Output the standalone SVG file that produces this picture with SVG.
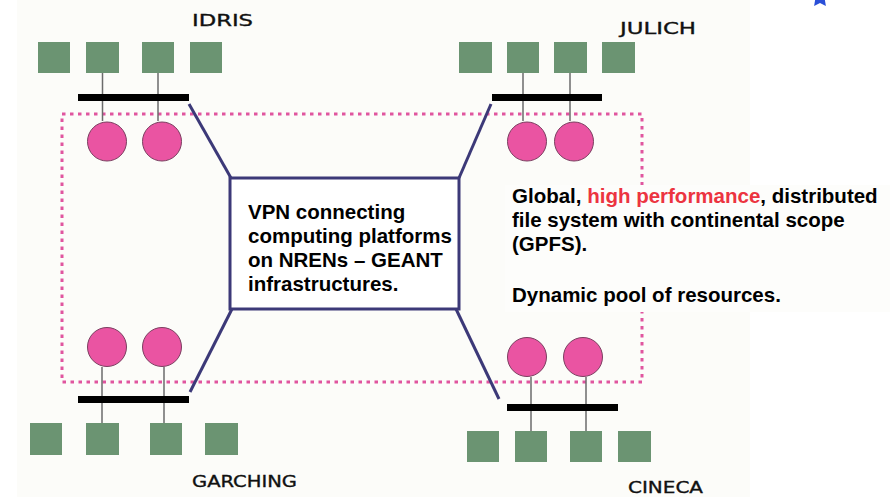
<svg xmlns="http://www.w3.org/2000/svg" width="894" height="497" viewBox="0 0 894 497">
<style>
.sq{fill:#6b9472;}
.ci{fill:#ea54a2;stroke:#7a3f60;stroke-width:1;}
.bar{fill:#000;}
.stem{stroke:#6b6b6b;stroke-width:1.5;fill:none;}
.lbl{font-family:"DejaVu Sans",sans-serif;font-size:16px;fill:#111;stroke:#111;stroke-width:0.35;}
.conn{stroke:#3c3978;stroke-width:3;fill:none;stroke-linecap:butt;}
.txt{font-family:"Liberation Sans",Arial,sans-serif;font-weight:bold;fill:#000;}
</style>
<rect width="894" height="497" fill="#ffffff"/>
<rect x="17" y="0" width="733" height="497" fill="#fcfcf9"/>
<polygon points="820,-12 822.9,-6 829.5,-5.1 824.8,-0.5 825.9,6.1 820,3 814.1,6.1 815.2,-0.5 810.5,-5.1 817.1,-6" fill="#2a4fd8"/>

<rect id="pool" x="62" y="114" width="580" height="268" fill="none" stroke="#e0559f" stroke-width="3" stroke-dasharray="3.5 4.5"/>

<g id="connectors">
<line class="conn" x1="189" y1="104" x2="231" y2="178"/>
<line class="conn" x1="491" y1="104" x2="459" y2="178"/>
<line class="conn" x1="190" y1="392" x2="232" y2="309"/>
<line class="conn" x1="456" y1="309" x2="499" y2="399"/>
</g>

<g id="vpn">
<rect x="230" y="178" width="229" height="131" fill="#ffffff" stroke="#3c3978" stroke-width="3"/>
<text class="txt" font-size="20.5" x="248" y="219">VPN connecting</text>
<text class="txt" font-size="20.5" x="248" y="243">computing platforms</text>
<text class="txt" font-size="20.5" x="248" y="267">on NRENs – GEANT</text>
<text class="txt" font-size="20.5" x="248" y="291">infrastructures.</text>
</g>

<g id="idris">
<line class="stem" x1="102.5" y1="73" x2="102.5" y2="121"/>
<line class="stem" x1="158" y1="73" x2="158" y2="121"/>
<rect class="sq" x="38" y="42" width="32" height="31"/>
<rect class="sq" x="86" y="42" width="33" height="31"/>
<rect class="sq" x="142" y="42" width="32" height="31"/>
<rect class="sq" x="190" y="42" width="32" height="31"/>
<rect class="bar" x="78" y="94" width="111" height="7"/>
<circle class="ci" cx="107" cy="141.5" r="19.5"/>
<circle class="ci" cx="162" cy="141.5" r="19.5"/>
<text class="lbl" x="192" y="26" textLength="61" lengthAdjust="spacingAndGlyphs">IDRIS</text>
</g>

<g id="julich">
<line class="stem" x1="523" y1="73" x2="523" y2="121"/>
<line class="stem" x1="570" y1="73" x2="570" y2="121"/>
<rect class="sq" x="459" y="42" width="33" height="31"/>
<rect class="sq" x="507" y="42" width="32" height="31"/>
<rect class="sq" x="554" y="42" width="33" height="31"/>
<rect class="sq" x="602" y="42" width="33" height="31"/>
<rect class="bar" x="492" y="94" width="110" height="7"/>
<circle class="ci" cx="527" cy="141.5" r="19.5"/>
<circle class="ci" cx="574" cy="141.5" r="19.5"/>
<text class="lbl" x="620" y="34" textLength="76" lengthAdjust="spacingAndGlyphs">JULICH</text>
</g>

<g id="garching">
<line class="stem" x1="102" y1="367" x2="102" y2="423"/>
<line class="stem" x1="164" y1="367" x2="164" y2="423"/>
<circle class="ci" cx="107" cy="347" r="19.5"/>
<circle class="ci" cx="162" cy="347" r="19.5"/>
<rect class="bar" x="78" y="396" width="111" height="7"/>
<rect class="sq" x="30" y="423" width="32" height="32"/>
<rect class="sq" x="86" y="423" width="33" height="32"/>
<rect class="sq" x="150" y="423" width="32" height="32"/>
<rect class="sq" x="205" y="423" width="33" height="32"/>
<text class="lbl" x="192" y="487" textLength="105" lengthAdjust="spacingAndGlyphs">GARCHING</text>
</g>

<g id="cineca">
<line class="stem" x1="531" y1="377" x2="531" y2="431"/>
<line class="stem" x1="586" y1="377" x2="586" y2="431"/>
<circle class="ci" cx="527" cy="357" r="19.5"/>
<circle class="ci" cx="583" cy="357" r="19.5"/>
<rect class="bar" x="507" y="404" width="111" height="7"/>
<rect class="sq" x="467" y="431" width="32" height="31"/>
<rect class="sq" x="515" y="431" width="32" height="31"/>
<rect class="sq" x="570" y="431" width="32" height="31"/>
<rect class="sq" x="618" y="431" width="33" height="31"/>
<text class="lbl" x="628" y="493" textLength="75" lengthAdjust="spacingAndGlyphs">CINECA</text>
</g>

<g id="description">
<rect x="505" y="185" width="385" height="127" fill="#fdfdfb"/>
<text class="txt" font-size="20.5" x="512" y="203">Global, <tspan fill="#ec3440">high performance</tspan>, distributed</text>
<text class="txt" font-size="20.5" x="512" y="227">file system with continental scope</text>
<text class="txt" font-size="20.5" x="512" y="251">(GPFS).</text>
<text class="txt" font-size="20.5" x="512" y="302">Dynamic pool of resources.</text>
</g>
</svg>
